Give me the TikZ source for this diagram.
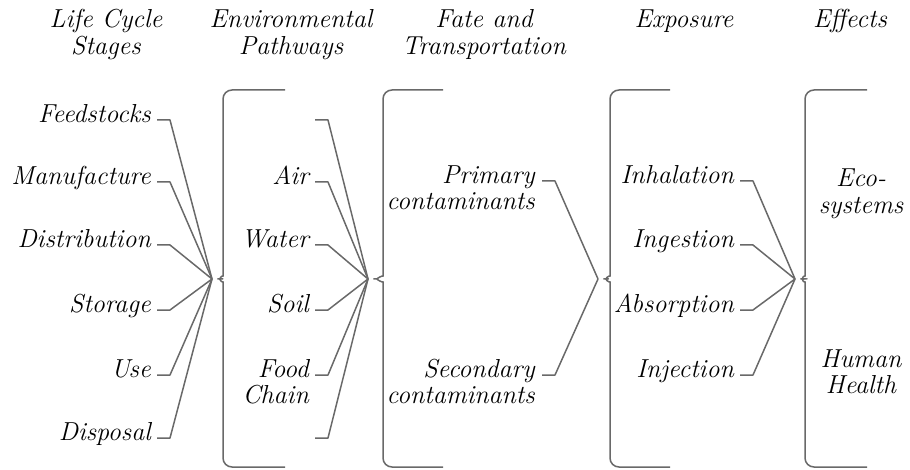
\documentclass[tikz,border=0pt]{standalone}
\usepackage{amsmath}
\usepackage{tikz}

\definecolor{linegrey}{RGB}{105,105,105}
\newcommand{\rstack}[2]{\begin{tabular}[t]{@{}r@{}}#1\\#2\end{tabular}}
\newcommand{\cstack}[2]{\begin{tabular}[t]{@{}c@{}}#1\\#2\end{tabular}}
\tikzset{
  lbl/.style={anchor=mid east, inner sep=0pt,
    font=\fontsize{26}{26.5}\selectfont\itshape},
  hdr/.style={anchor=base, inner sep=0pt,
    font=\fontsize{26}{26.5}\selectfont\itshape},
  conn/.style={draw=linegrey, line width=1.5pt, line join=round},
  stub/.style={to path={-- ++(13,0) -- (\tikztotarget)}},
  brace/.style={draw=linegrey, line width=1.5pt, rounded corners=9pt}
}

\begin{document}
\begin{tikzpicture}[x=1pt,y=-1pt]
			\useasboundingbox (0,0) rectangle (910,470);
			% column heads
			\node   (hlife) at (106,28) [hdr] {\cstack{Life Cycle}{Stages}};
			\node   (henv) at (291,28) [hdr] {\cstack{Environmental}{Pathways}};
			\node   (hfate) at (484,28) [hdr] {\cstack{Fate and}{Transportation}};
			\node   (hexp) at (684,28) [hdr] {Exposure};
			\node   (heff) at (850,28) [hdr] {Effects};

			% meeting points of the braces
			\coordinate (t1) at (212,279);
			\coordinate (t2) at (368,279);
			\coordinate (t3) at (598,279);
			\coordinate (t4) at (795,279);

			% life cycle stages
			\node	(feed) at (151,120) [lbl] {Feedstocks};
			\node	(manu) at (151,182) [lbl] {Manufacture};
			\node	(dist) at (151,245) [lbl] {Distribution};
			\node	(stor) at (151,310) [lbl] {Storage};
			\node	(use) at (151,375) [lbl] {Use};
			\node	(disp) at (151,438) [lbl] {Disposal};

			% pathways
			\coordinate (p0) at (315,120);
			\node	(air) at (309,182) [lbl] {Air};
			\node	(water) at (309,245) [lbl] {Water};
			\node	(soil) at (309,310) [lbl] {Soil};
			\node	(food) at (309,375) [lbl] {\rstack{Food}{Chain}};
			\coordinate (p5) at (315,438);

			% fate
			\node	(prim) at (535,181) [lbl] {\rstack{Primary}{contaminants}};
			\node	(sec) at (535,375) [lbl] {\rstack{Secondary}{contaminants}};

			% exposure
			\node	(inh) at (734,181) [lbl] {Inhalation};
			\node	(ing) at (734,245) [lbl] {Ingestion};
			\node	(abs) at (734,310) [lbl] {Absorption};
			\node	(inj) at (734,375) [lbl] {Injection};

			% effects
			\node	(eco) at (861,187) [hdr] {\cstack{Eco-}{systems}};
			\node	(hum) at (861,367) [hdr] {\cstack{Human}{Health}};

			\draw[conn]
			(feed.mid east) ++(6,0) edge[stub] (t1)
			(manu.mid east) ++(6,0) edge[stub] (t1)
			(dist.mid east) ++(6,0) edge[stub] (t1)
			(stor.mid east) ++(6,0) edge[stub] (t1)
			(use.mid east) ++(6,0) edge[stub] (t1)
			(disp.mid east) ++(6,0) edge[stub] (t1)
			(p0) edge[stub] (t2)
			(air.mid east) ++(6,0) edge[stub] (t2)
			(water.mid east) ++(6,0) edge[stub] (t2)
			(soil.mid east) ++(6,0) edge[stub] (t2)
			(food.mid east) ++(6,0) edge[stub] (t2)
			(p5) edge[stub] (t2)
			(prim.mid east) ++(7,0) edge[stub] (t3)
			(sec.mid east) ++(7,0) edge[stub] (t3)
			(inh.mid east) ++(6,0) edge[stub] (t4)
			(ing.mid east) ++(6,0) edge[stub] (t4)
			(abs.mid east) ++(6,0) edge[stub] (t4)
			(inj.mid east) ++(6,0) edge[stub] (t4)
			;

			% braces
			\draw[brace] (285,90) -- (223,90) -- (223,267)
			  .. controls (223,275) and (218,279) .. (t1)
			  .. controls (218,279) and (223,283) .. (223,291) -- (223,467) -- (285,467);
			\draw[brace] (443,90) -- (383,90) -- (383,267)
			  .. controls (383,275) and (376,279) .. (t2)
			  .. controls (376,279) and (383,283) .. (383,291) -- (383,467) -- (443,467);
			\draw[brace] (670,90) -- (610,90) -- (610,267)
			  .. controls (610,275) and (604,279) .. (t3)
			  .. controls (604,279) and (610,283) .. (610,291) -- (610,467) -- (670,467);
			\draw[brace] (867,90) -- (805,90) -- (805,267)
			  .. controls (805,275) and (800,279) .. (t4)
			  .. controls (800,279) and (805,283) .. (805,291) -- (805,467) -- (867,467);
		\end{tikzpicture}
\end{document}
